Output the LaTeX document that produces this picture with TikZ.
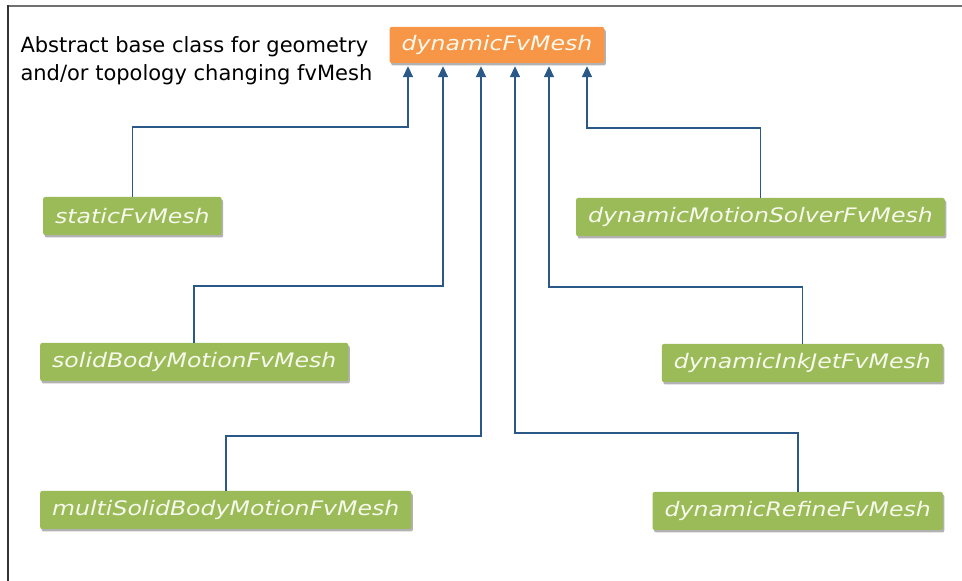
\documentclass[tikz,border=0pt]{standalone}
\usepackage{fontspec}
\setmainfont{DejaVu Sans}
\newfontfamily\boxfont[FakeStretch=1.18]{DejaVu Sans}
\usetikzlibrary{positioning,shadows,arrows.meta}
\definecolor{meshorange}{HTML}{F79646}
\definecolor{meshgreen}{HTML}{9BBB59}
\definecolor{linkblue}{HTML}{2A5888}
\definecolor{boxtext}{HTML}{F7F9EC}
\definecolor{framegray}{HTML}{707070}

\begin{document}
\begin{tikzpicture}[
  x=1pt, y=1pt,
  base/.style={rectangle, rounded corners=2pt, fill=meshorange, text=boxtext, minimum height=36pt, inner xsep=12pt,
    font=\boxfont\fontsize{20}{24}\selectfont\itshape,
    drop shadow={shadow xshift=1.5pt, shadow yshift=-2.5pt, fill=black, opacity=0.3}},
  leaf/.style={base, fill=meshgreen, minimum height=38pt},
  link/.style={draw=linkblue, line width=1.7pt, -{Triangle[length=11pt,width=10pt]}},
  note/.style={align=left, font=\fontsize{21}{28}\selectfont},
  node distance=146pt
]
\useasboundingbox (0,0) rectangle (962,581);
\draw[framegray, line width=2pt] (8,574.5) -- (962,574.5);
\draw[black!80, line width=1.5pt] (8,575.5) -- (8,0);

\node[base] (dyn) at (497,536) {dynamicFvMesh};
\node[note, anchor=west] (about) at (17,520) {Abstract base class for geometry\\and/or topology changing fvMesh};

\node[leaf, anchor=west] (static) at (43,365) {staticFvMesh};
\node[leaf, below=of static.west, anchor=west, xshift=-3pt] (solid) {solidBodyMotionFvMesh};
\node[leaf, below=148pt of solid.west, anchor=west] (multi) {multiSolidBodyMotionFvMesh};

\node[leaf, anchor=east] (motion) at (945,364) {dynamicMotionSolverFvMesh};
\node[leaf, below=of motion.east, anchor=east, xshift=-2pt] (inkjet) {dynamicInkJetFvMesh};
\node[leaf, below=148pt of inkjet.east, anchor=east] (refine) {dynamicRefineFvMesh};

% arrow ends under the base class
\coordinate (in1) at ([xshift=-89pt,yshift=-3pt]dyn.south);
\coordinate (in2) at ([xshift=-54pt,yshift=-3pt]dyn.south);
\coordinate (in3) at ([xshift=-16pt,yshift=-3pt]dyn.south);
\coordinate (in4) at ([xshift=18pt,yshift=-3pt]dyn.south);
\coordinate (in5) at ([xshift=52pt,yshift=-3pt]dyn.south);
\coordinate (in6) at ([xshift=90pt,yshift=-3pt]dyn.south);

\draw[link] (static.north) -- ++(0,70) -| (in1);
\draw[link] (solid.north) -- ++(0,57) -| (in2);
\draw[link] (multi.north) -- ++(0,55) -| (in3);
\draw[link] (refine.north) -- ++(0,59) -| (in4);
\draw[link] (inkjet.north) -- ++(0,57) -| (in5);
\draw[link] (motion.north) -- ++(0,70) -| (in6);
\end{tikzpicture}
\end{document}
